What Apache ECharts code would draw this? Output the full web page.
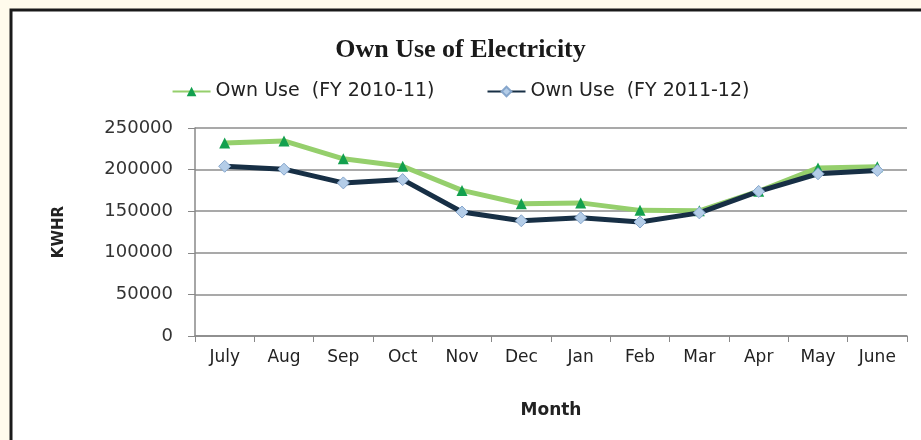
<!DOCTYPE html>
<html>
<head>
<meta charset="utf-8">
<script src="https://cdn.jsdelivr.net/npm/echarts@6/dist/echarts.min.js"></script>
<style>
  html, body { margin: 0; padding: 0; background: #fffbec; }
  #chart { width: 921px; height: 440px; }
</style>
</head>
<body>
<div id="chart"></div>
<script>
var months = ['July', 'Aug', 'Sep', 'Oct', 'Nov', 'Dec', 'Jan', 'Feb', 'Mar', 'Apr', 'May', 'June']
var fy1011 = [232000, 234500, 213000, 204000, 175000, 159000, 160000, 151000, 150500, 174000, 202000, 203500]
var fy1112 = [204000, 200500, 184000, 188000, 149000, 138500, 142000, 137000, 148000, 173800, 195000, 199000]
var yTicks = { min: 0, max: 250000, step: 50000 }

var chart = echarts.init(document.getElementById('chart'))
var labelFont = 'DejaVu Sans'

chart.setOption({
  backgroundColor: '#fffbec',
  graphic: [
    {
      type: 'rect',
      z: -10,
      shape: { x: 11, y: 10, width: 930, height: 450 },
      style: { fill: '#ffffff', stroke: '#1a1a1a', lineWidth: 3 }
    }
  ],
  title: {
    text: 'Own Use of Electricity',
    left: 'center',
    top: 32,
    textStyle: {
      fontFamily: 'Liberation Serif',
      fontWeight: 'bold',
      fontSize: 26,
      color: '#1a1a1a'
    }
  },
  legend: {
    top: 77,
    left: 'center',
    itemWidth: 38,
    itemHeight: 12,
    itemGap: 52,
    textStyle: { fontFamily: labelFont, fontSize: 19, color: '#222' },
    data: ['Own Use  (FY 2010-11)', 'Own Use  (FY 2011-12)']
  },
  grid: { left: 195, right: 14, top: 128, bottom: 104 },
  xAxis: {
    type: 'category',
    data: months,
    boundaryGap: true,
    name: 'Month',
    nameLocation: 'middle',
    nameGap: 66,
    nameTextStyle: { fontFamily: labelFont, fontWeight: 'bold', fontSize: 17, color: '#222' },
    axisLine: { lineStyle: { color: '#888', width: 1.5 } },
    axisTick: { show: true, length: 6, lineStyle: { color: '#888' } },
    axisLabel: { margin: 13, fontFamily: labelFont, fontSize: 17, color: '#222' }
  },
  yAxis: {
    type: 'value',
    min: yTicks.min,
    max: yTicks.max,
    interval: yTicks.step,
    name: 'KWHR',
    nameLocation: 'middle',
    nameGap: 128,
    nameRotate: 90,
    nameTextStyle: { fontFamily: labelFont, fontWeight: 'bold', fontSize: 15, color: '#222' },
    axisLine: { show: true, lineStyle: { color: '#888', width: 1.5 } },
    axisTick: { show: true, length: 7, lineStyle: { color: '#888' } },
    axisLabel: {
      margin: 22,
      fontFamily: labelFont,
      fontSize: 18,
      color: '#333',
      formatter: function (v) { return String(v) }
    },
    splitLine: { lineStyle: { color: '#8c8c8c', width: 1.5 } }
  },
  series: [
    {
      name: 'Own Use  (FY 2010-11)',
      type: 'line',
      data: fy1011,
      symbol: 'triangle',
      symbolSize: 11,
      lineStyle: { color: '#95cf6c', width: 5 },
      itemStyle: { color: '#13a04e', borderWidth: 0 },
      z: 2
    },
    {
      name: 'Own Use  (FY 2011-12)',
      type: 'line',
      data: fy1112,
      symbol: 'diamond',
      symbolSize: 12,
      lineStyle: { color: '#172f45', width: 5 },
      itemStyle: { color: '#b4cde8', borderColor: '#86a6cc', borderWidth: 1 },
      z: 3
    }
  ]
})
</script>
</body>
</html>
